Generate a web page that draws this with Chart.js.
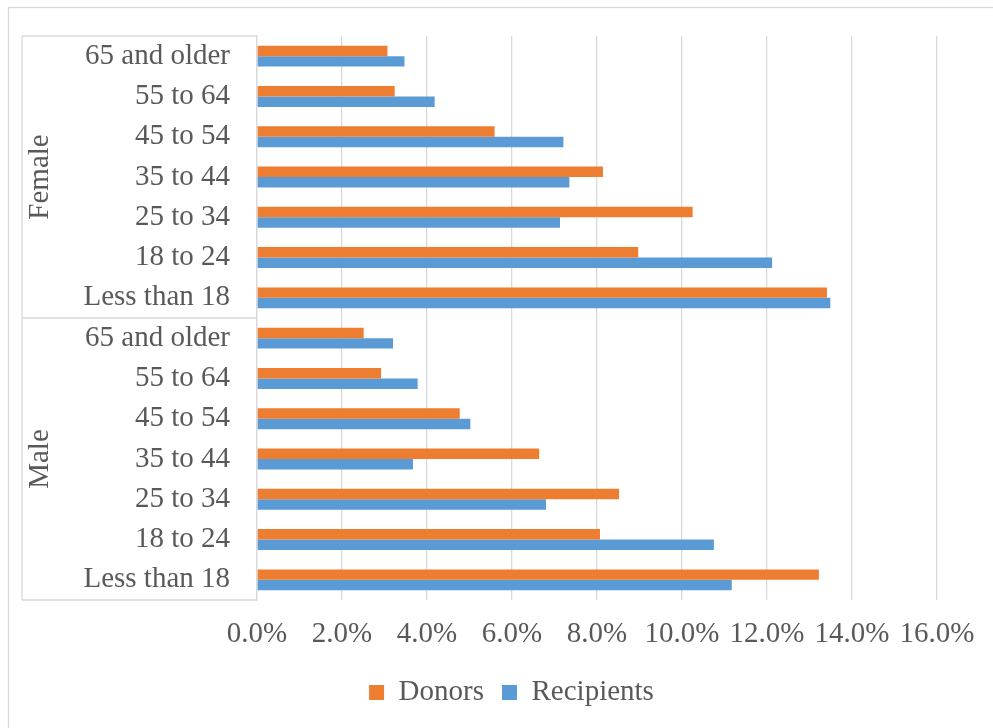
<!DOCTYPE html>
<html>
<head>
<meta charset="utf-8">
<script src="https://cdn.jsdelivr.net/npm/chart.js@4.4.1/dist/chart.umd.min.js"></script>
<style>
  html, body { margin: 0; padding: 0; background: #fff; }
  #wrap { width: 993px; height: 728px; }
</style>
</head>
<body>
<div id="wrap"><canvas id="chart" width="993" height="728"></canvas></div>
<script>
// age bands, top to bottom within each group
const ageBands = ['65 and older', '55 to 64', '45 to 54', '35 to 44', '25 to 34', '18 to 24', 'Less than 18'];
const groups = ['Female', 'Male'];

// shares (%), Female then Male, same order as ageBands
const donors = [3.07, 3.24, 5.59, 8.14, 10.25, 8.97, 13.41,
                2.51, 2.92, 4.77, 6.64, 8.52, 8.07, 13.22];
const recipients = [3.47, 4.18, 7.21, 7.35, 7.13, 12.12, 13.49,
                    3.20, 3.78, 5.02, 3.67, 6.80, 10.75, 11.17];

const xTicks = [0, 2, 4, 6, 8, 10, 12, 14, 16];

const labels = [];
groups.forEach(g => ageBands.forEach(a => labels.push(a)));

const gray = '#d9d9d9';
const textColor = '#595959';
const serif = '"Liberation Serif", "Times New Roman", serif';

// outer frame + group boxes on the category axis
const groupAxis = {
  id: 'groupAxis',
  beforeDraw(chart) {
    const ctx = chart.ctx;
    ctx.save();
    ctx.strokeStyle = gray;
    ctx.lineWidth = 1.3;
    ctx.strokeRect(8.5, 7.5, 1100, 1100);
    ctx.restore();
  },
  afterDraw(chart) {
    const ctx = chart.ctx;
    const y = chart.scales.y;
    const area = chart.chartArea;
    const left = 22;
    const half = (y.getPixelForValue(1) - y.getPixelForValue(0)) / 2;
    ctx.save();
    ctx.strokeStyle = gray;
    ctx.lineWidth = 1.3;
    ctx.beginPath();
    ctx.moveTo(left, area.top);
    ctx.lineTo(left, area.bottom);
    groups.forEach((g, i) => {
      const first = y.getPixelForValue(i * ageBands.length) - half;
      ctx.moveTo(left, first);
      ctx.lineTo(area.left, first);
    });
    ctx.moveTo(left, area.bottom);
    ctx.lineTo(area.left, area.bottom);
    ctx.stroke();

    ctx.fillStyle = textColor;
    ctx.font = '29px ' + serif;
    ctx.textAlign = 'center';
    ctx.textBaseline = 'middle';
    groups.forEach((g, i) => {
      const a = y.getPixelForValue(i * ageBands.length) - half;
      const b = y.getPixelForValue((i + 1) * ageBands.length - 1) + half;
      ctx.save();
      ctx.translate(40, (a + b) / 2);
      ctx.rotate(-Math.PI / 2);
      ctx.fillText(g, 0, 0);
      ctx.restore();
    });
    ctx.restore();
  }
};

new Chart(document.getElementById('chart'), {
  type: 'bar',
  data: {
    labels: labels,
    datasets: [
      {
        label: 'Donors',
        data: donors,
        backgroundColor: '#ED7D31',
        categoryPercentage: 0.52,
        barPercentage: 1.0,
      },
      {
        label: 'Recipients',
        data: recipients,
        backgroundColor: '#5B9BD5',
        categoryPercentage: 0.52,
        barPercentage: 1.0,
      },
    ],
  },
  options: {
    indexAxis: 'y',
    responsive: false,
    animation: false,
    layout: { padding: { left: 30, right: 0, top: 36, bottom: 11 } },
    plugins: {
      tooltip: { enabled: false },
      legend: {
        position: 'bottom',
        labels: {
          boxWidth: 15,
          boxHeight: 15,
          padding: 18,
          color: textColor,
          font: { family: serif, size: 29 },
        },
      },
    },
    scales: {
      x: {
        min: 0,
        max: 16,
        afterBuildTicks: s => { s.ticks = xTicks.map(v => ({ value: v })); },
        afterFit: s => { s.height = 60; },
        grid: { color: gray, lineWidth: 1.3, drawTicks: false },
        border: { display: false },
        ticks: {
          padding: 17,
          color: textColor,
          font: { family: serif, size: 29 },
          callback: v => v.toFixed(1) + '%',
        },
      },
      y: {
        afterFit: s => { s.width = 227; },
        grid: {
          display: true,
          drawOnChartArea: false,
          drawTicks: true,
          tickLength: 27,
          tickColor: 'rgba(0,0,0,0)',
        },
        border: { color: gray, width: 1.3 },
        ticks: {
          padding: 0,
          color: textColor,
          font: { family: serif, size: 29 },
        },
      },
      pad: {
        type: 'linear',
        position: 'right',
        afterFit: s => { s.width = 56; },
        grid: { display: false },
        border: { display: false },
        ticks: { display: false },
      },
    },
  },
  plugins: [groupAxis],
});
</script>
</body>
</html>
